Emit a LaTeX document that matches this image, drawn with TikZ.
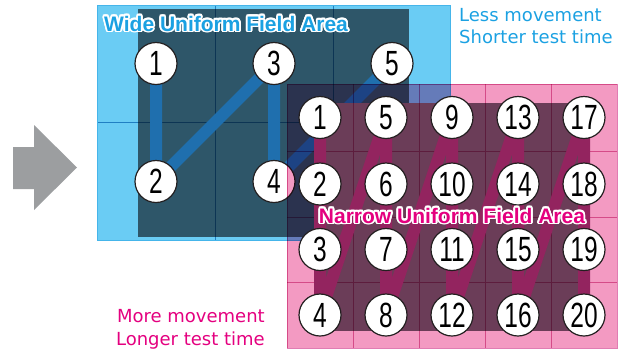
\documentclass[tikz,border=0pt]{standalone}
\usepackage{fontspec}
\setmainfont{DejaVu Sans}
\newfontfamily\numfont[FakeStretch=0.7]{Liberation Sans}
\newfontfamily\labfont{Liberation Sans}
\usepackage{contour}
\contourlength{1.8pt}
\definecolor{lightblue}{HTML}{6ACCF4}
\definecolor{tealdark}{HTML}{2E5669}
\definecolor{bluegrid}{HTML}{4D9FCC}
\definecolor{blueborder}{HTML}{45B5EA}
\definecolor{bconncol}{HTML}{1F6FAE}
\definecolor{pinklight}{HTML}{F39AC2}
\definecolor{mauve}{HTML}{6B3D58}
\definecolor{pinkgrid}{HTML}{E07DB3}
\definecolor{pconncol}{HTML}{93245F}
\definecolor{bluetext}{HTML}{1BA1E2}
\definecolor{magtext}{HTML}{E4007F}
\definecolor{arrowgray}{HTML}{9C9EA0}
\definecolor{circline}{HTML}{231F20}
\pgfdeclarelayer{blueback}
\pgfdeclarelayer{bluefront}
\pgfdeclarelayer{pinkback}
\pgfsetlayers{blueback,bluefront,pinkback,main}
\tikzset{
  numcirc/.style={circle, fill=white, draw=circline, line width=1.2pt,
    minimum size=42pt, inner sep=0pt,
    font=\numfont\fontsize{35}{35}\selectfont},
  bconn/.style={draw=bconncol, line width=12pt, line join=round},
  pconn/.style={draw=pconncol, line width=12pt, line join=round},
  arealabel/.style={font=\labfont\bfseries\fontsize{21}{21}\selectfont, inner sep=0pt},
  sidetext/.style={font=\fontsize{18}{22}\selectfont, inner sep=0pt},
  gridline/.style={line width=1pt}
}
\begin{document}
\begin{tikzpicture}[x=1pt,y=-1pt]
\useasboundingbox (0,0) rectangle (623,349);

% ---------- blue circles (front of blue group) ----------
\begin{pgfonlayer}{bluefront}
\node[numcirc] (b1) at (156,63.5) {1};
\node[numcirc] (b2) at (156,181.5) {2};
\node[numcirc] (b3) at (274,63.5) {3};
\node[numcirc] (b4) at (274,181.5) {4};
\node[numcirc] (b5) at (392,63.5) {5};
\node[arealabel, text=bluetext, anchor=base west] (wlab) at (104,31) {\contour{white}{Wide Uniform Field Area}};
\end{pgfonlayer}

% ---------- blue background ----------
\begin{pgfonlayer}{blueback}
\fill[arrowgray] (13,147) -- (34,147) -- (34,125) -- (77,167.5) -- (34,210) -- (34,189) -- (13,189) -- cycle;
\fill[lightblue] (97,5) rectangle (450,240);
\fill[tealdark] (138,9) rectangle (409,237);
\begin{scope}[blend mode=multiply]
\draw[bluegrid, gridline] (215,5) -- (215,240) (333,5) -- (333,240) (97,122) -- (450,122);
\end{scope}
\draw[blueborder, line width=1pt] (97,5) rectangle (450,240);
\draw[bconn] (b1.center) -- (b2.center) -- (b3.center) -- (b4.center) -- (b5.center);
\end{pgfonlayer}

% ---------- pink circles ----------
\foreach \c/\x in {0/320,1/386,2/452,3/518,4/584}{
  \foreach \r/\y in {1/117.5,2/184,3/249.5,4/315}{
    \pgfmathtruncatemacro{\n}{\c*4+\r}
    \node[numcirc] (p\n) at (\x,\y) {\n};
  }
}

% ---------- pink background ----------
\begin{pgfonlayer}{pinkback}
\begin{scope}[blend mode=multiply]
\fill[pinklight] (287,84) rectangle (617,348);
\end{scope}
\fill[mauve] (315,103) rectangle (590,331);
\begin{scope}[blend mode=multiply]
\draw[pinkgrid, gridline] (353,84) -- (353,348) (419,84) -- (419,348) (485,84) -- (485,348) (551,84) -- (551,348)
  (287,151) -- (617,151) (287,217) -- (617,217) (287,282) -- (617,282);
\draw[pinkgrid, line width=1pt] (287,84) rectangle (617,348);
\end{scope}
\draw[pconn] (p1.center) -- (p4.center) -- (p5.center) -- (p8.center) -- (p9.center) -- (p12.center)
  -- (p13.center) -- (p16.center) -- (p17.center) -- (p20.center);
\end{pgfonlayer}

\node[arealabel, text=magtext, anchor=base] (nlab) at (452,223) {\contour{white}{Narrow Uniform Field Area}};

\node[sidetext, text=bluetext, anchor=base west] (less) at (459,21) {Less movement};
\node[sidetext, text=bluetext, anchor=base west] (short) at (459,43) {Shorter test time};
\node[sidetext, text=magtext, anchor=base east] (more) at (265,322) {More movement};
\node[sidetext, text=magtext, anchor=base east] (longer) at (265,345) {Longer test time};
\end{tikzpicture}
\end{document}
